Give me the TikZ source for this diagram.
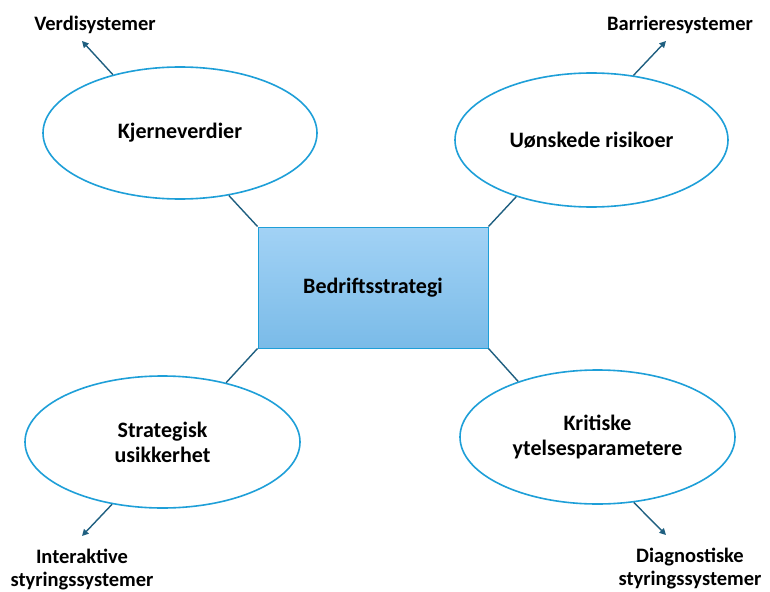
\documentclass[tikz,border=0pt]{standalone}
\usepackage{fontspec}
\setmainfont{Carlito}
\usetikzlibrary{shapes.geometric,arrows.meta}
\definecolor{rimblue}{HTML}{1E9FD8}
\definecolor{linkblue}{HTML}{1F5F80}
\definecolor{boxtop}{HTML}{A2D2F5}
\definecolor{boxbottom}{HTML}{7ABBE8}
\tikzset{
  idea/.style={ellipse, draw=rimblue, line width=1.6pt, fill=white, inner sep=0pt,
    align=center, font=\bfseries\fontsize{22}{25}\selectfont},
  core/.style={rectangle, draw=rimblue, line width=1pt, top color=boxtop, bottom color=boxbottom,
    minimum width=230pt, minimum height=121pt, inner sep=0pt, font=\bfseries\fontsize{22}{25}\selectfont},
  tag/.style={align=center, inner sep=0pt, font=\bfseries\fontsize{20.5}{23}\selectfont},
  link/.style={draw=linkblue, line width=1.4pt},
  pointer/.style={link, -{Triangle[length=6.5pt,width=6.5pt]}}
}
\begin{document}
\begin{tikzpicture}[x=1pt,y=-1pt]
  \useasboundingbox (0,0) rectangle (770,591);

  % central strategy box
  \node[core] (b) at (373,287.5) {Bedriftsstrategi};

  % the four themes around it
  \node[idea, minimum width=274pt, minimum height=132pt] (k) at (180,133) {\raisebox{-2pt}{Kjerneverdier}};
  \node[idea, minimum width=273pt, minimum height=134pt] (u) at (591.5,140) {Uønskede risikoer};
  \node[idea, minimum width=275pt, minimum height=132pt] (s) at (162.5,442) {Strategisk\\usikkerhet};
  \node[idea, minimum width=275pt, minimum height=134pt] (p) at (597.5,437) {Kritiske\\ytelsesparametere};

  % links from the box corners to the themes
  \draw[link] (b.north west) -- (k.-52);
  \draw[link] (b.north east) -- (u.217);
  \draw[link] (b.south west) -- (s.43);
  \draw[link] (b.south east) -- (p.145);

  % control systems
  \node[tag] (tv) at (95,25) {Verdisystemer};
  \node[tag] (tb) at (680,25) {Barrieresystemer};
  \node[tag] (ti) at (82,570) {Interaktive\\styringssystemer};
  \node[tag] (td) at (690,569) {Diagnostiske\\styringssystemer};

  \coordinate (av) at (82,41);
  \coordinate (ab) at (666,41);
  \coordinate (ai) at (82,536);
  \coordinate (ad) at (666,535);

  \draw[pointer] (k.139) -- (av);
  \draw[pointer] (u.57) -- (ab);
  \draw[pointer] (s.-129) -- (ai);
  \draw[pointer] (p.-61) -- (ad);
\end{tikzpicture}
\end{document}
